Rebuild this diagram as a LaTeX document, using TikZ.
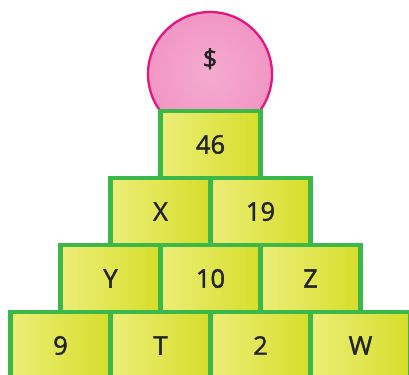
\documentclass[tikz,border=0pt]{standalone}
\usepackage{fontspec}
\setmainfont{Open Sans}
\newfontfamily\numfont[FakeBold=1.6]{Open Sans}
\usepackage{tikz}
\usetikzlibrary{positioning}
\definecolor{brickedge}{RGB}{60,184,74}
\definecolor{brickleft}{RGB}{236,238,120}
\definecolor{brickright}{RGB}{214,222,42}
\definecolor{domefill}{RGB}{242,150,196}
\definecolor{domeedge}{RGB}{228,20,128}
\definecolor{numgray}{RGB}{35,35,35}
\tikzset{
  brick/.style={rectangle, draw=brickedge, line width=2.3pt, left color=brickleft, right color=brickright,
                minimum width=2cm, minimum height=1.34cm, outer sep=0pt, inner sep=0pt,
                font=\numfont\fontsize{14.5}{16}\selectfont, text=numgray},
  dome/.style ={circle, draw=domeedge, line width=1.3pt, inner color=domefill!80, outer color=domefill,
                minimum size=2.48cm, inner sep=0pt, font=\numfont\fontsize{14.5}{16}\selectfont, text=numgray},
}

\begin{document}
\begin{tikzpicture}
\clip (0,0) rectangle (8.18,-7.48);
\node[dome] (top) at (4.2,-1.48) {\raisebox{0.64cm}{\$}};
% pyramid rows
\node[brick] (b46) at (4.21,-2.89) {46};
\node[brick, below=0pt of b46, xshift=-1cm] (bX) {X};
\node[brick, right=0pt of bX] (b19) {19};
\node[brick, below=0pt of bX, xshift=-1cm] (bY) {Y};
\node[brick, right=0pt of bY] (b10) {10};
\node[brick, right=0pt of b10] (bZ) {Z};
\node[brick, below=0pt of bY, xshift=-1cm] (b9) {9};
\node[brick, right=0pt of b9] (bT) {T};
\node[brick, right=0pt of bT] (b2) {2};
\node[brick, right=0pt of b2] (bW) {W};
\end{tikzpicture}
\end{document}
